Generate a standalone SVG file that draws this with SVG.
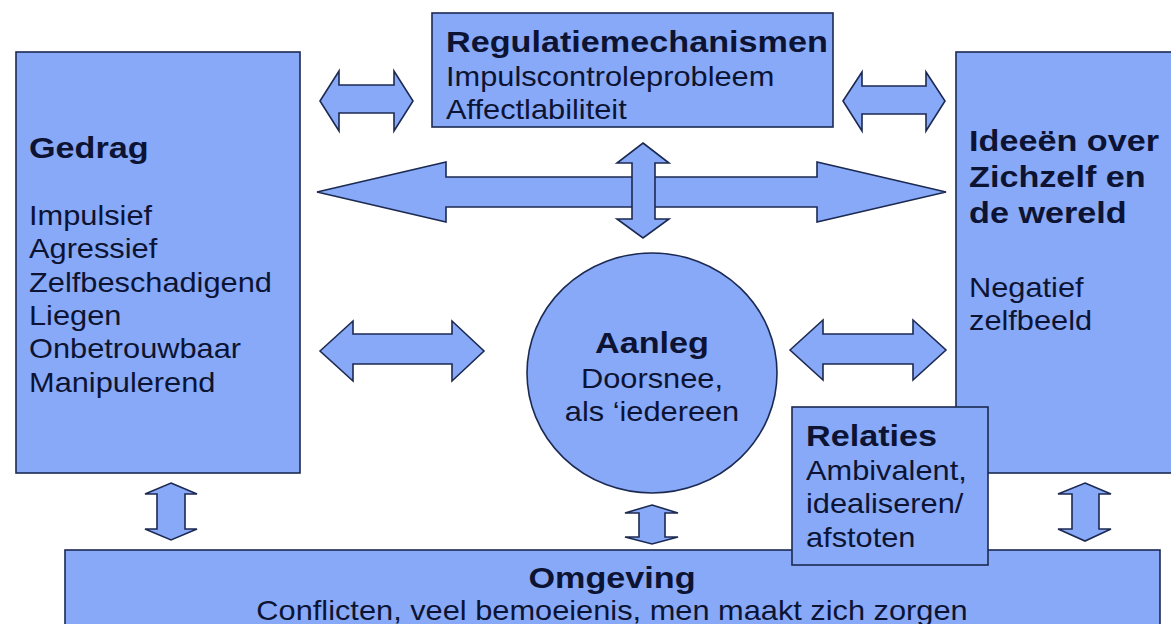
<svg xmlns="http://www.w3.org/2000/svg" width="1171" height="624" viewBox="0 0 1171 624">
<style>
.box{fill:#88a9f8;stroke:#1c2a52;stroke-width:1.6}
.arr{fill:#88a9f8;stroke:#1c2a52;stroke-width:1.6;stroke-linejoin:miter}
.b{font-family:"Liberation Sans",Arial,sans-serif;font-weight:bold;font-size:30px;fill:#0d1433}
.r{font-family:"Liberation Sans",Arial,sans-serif;font-size:27px;fill:#0d1433}
.m{text-anchor:middle}
</style>
<rect width="1171" height="624" fill="#ffffff"/>
<g id="connectors">
<polygon class="arr" points="320,101 339,71 339,85 394,85 394,71 413,101 394,131 394,113 339,113 339,131"/>
<polygon class="arr" points="843,101 862,72 862,86 926,86 926,72 945,101 926,131 926,114 862,114 862,131"/>
<polygon class="arr" points="317,192 446,162 446,177 817,177 817,162 946,192 817,222 817,207 446,207 446,222"/>
<polygon class="arr" points="643,143 669,163 655,163 655,219 669,219 643,238 617,219 632,219 632,163 617,163"/>
<polygon class="arr" points="320,351 353,321 353,334 452,334 452,321 484,351 452,381 452,364 353,364 353,381"/>
<polygon class="arr" points="790,350 823,320 823,334 913,334 913,320 946,350 913,380 913,364 823,364 823,380"/>
<polygon class="arr" points="171,483 197,494 185,494 185,529 197,529 171,540 145,529 157,529 157,494 145,494"/>
<polygon class="arr" points="652,505 678,513 665,513 665,537 678,537 652,544 625,537 639,537 639,513 625,513"/>
<polygon class="arr" points="1085,483 1111,494 1099,494 1099,529 1111,529 1085,541 1058,529 1072,529 1072,494 1058,494"/>
</g>
<g id="regulatie">
<rect class="box" x="432" y="13" width="401" height="114"/>
<text class="b" transform="translate(446 52) scale(1.14 1)">Regulatiemechanismen</text>
<text class="r" transform="translate(446 86) scale(1.14 1)">Impulscontroleprobleem</text>
<text class="r" transform="translate(446 119) scale(1.14 1)">Affectlabiliteit</text>
</g>
<g id="gedrag">
<rect class="box" x="16" y="52" width="284" height="421"/>
<text class="b" transform="translate(29 158) scale(1.14 1)">Gedrag</text>
<text class="r" transform="translate(29 225) scale(1.14 1)">Impulsief</text>
<text class="r" transform="translate(29 258) scale(1.14 1)">Agressief</text>
<text class="r" transform="translate(29 292) scale(1.14 1)">Zelfbeschadigend</text>
<text class="r" transform="translate(29 325) scale(1.14 1)">Liegen</text>
<text class="r" transform="translate(29 358) scale(1.14 1)">Onbetrouwbaar</text>
<text class="r" transform="translate(29 392) scale(1.14 1)">Manipulerend</text>
</g>
<g id="ideeen">
<rect class="box" x="956" y="52" width="230" height="421"/>
<text class="b" transform="translate(969 151) scale(1.14 1)">Ideeën over</text>
<text class="b" transform="translate(969 187) scale(1.14 1)">Zichzelf en</text>
<text class="b" transform="translate(969 223) scale(1.14 1)">de wereld</text>
<text class="r" transform="translate(969 297) scale(1.14 1)">Negatief</text>
<text class="r" transform="translate(969 330) scale(1.14 1)">zelfbeeld</text>
</g>
<g id="aanleg">
<ellipse class="box" cx="652" cy="373" rx="125" ry="120"/>
<text class="b m" transform="translate(652 353) scale(1.14 1)">Aanleg</text>
<text class="r m" transform="translate(652 388) scale(1.14 1)">Doorsnee,</text>
<text class="r m" transform="translate(652 421) scale(1.14 1)">als ‘iedereen</text>
</g>
<g id="omgeving">
<rect class="box" x="65" y="550" width="1095" height="90"/>
<text class="b m" transform="translate(612 588) scale(1.14 1)">Omgeving</text>
<text class="r m" transform="translate(612 620) scale(1.14 1)">Conflicten, veel bemoeienis, men maakt zich zorgen</text>
</g>
<g id="relaties">
<rect class="box" x="792" y="407" width="196" height="158"/>
<text class="b" transform="translate(806 446) scale(1.14 1)">Relaties</text>
<text class="r" transform="translate(806 480) scale(1.14 1)">Ambivalent,</text>
<text class="r" transform="translate(806 513) scale(1.14 1)">idealiseren/</text>
<text class="r" transform="translate(806 547) scale(1.14 1)">afstoten</text>
</g>
</svg>
